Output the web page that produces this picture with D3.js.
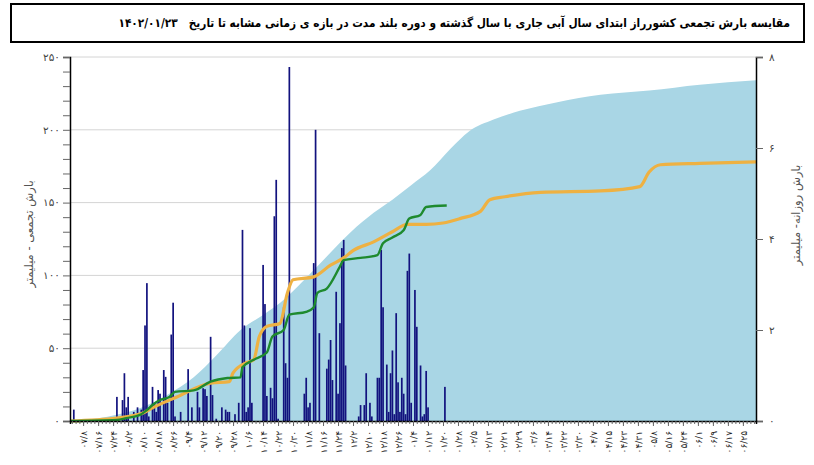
<!DOCTYPE html>
<html><head><meta charset="utf-8">
<script src="https://cdnjs.cloudflare.com/ajax/libs/d3/7.8.5/d3.min.js"></script>
<style>
body{margin:0;background:#fff;}
svg{display:block;font-family:"DejaVu Sans",sans-serif;}
</style></head><body>
<svg id="c" width="814" height="465"></svg>
<script>
const titleText = "مقایسه بارش تجمعی کشورراز ابتدای سال آبی جاری با سال گذشته و دوره بلند مدت در بازه ی زمانی مشابه تا تاریخ";
const titleDate = "۱۴۰۲/۰۱/۲۳";
const leftTitle = "بارش تجمعی - میلیمتر";
const rightTitle = "بارش روزانه- میلیمتر";
const leftTicks = [0,50,100,150,200,250];
const rightTicks = [0,2,4,6,8];
// x tick labels (month/day), every 8 days starting at day index 7
const xLabels = ["۰۷/۸","۰۷/۱۶","۰۷/۲۴","۰۸/۲","۰۸/۱۰","۰۸/۱۸","۰۸/۲۶","۰۹/۴","۰۹/۱۲","۰۹/۲۰","۰۹/۲۸",
 "۱۰/۶","۱۰/۱۴","۱۰/۲۲","۱۰/۳۰","۱۱/۸","۱۱/۱۶","۱۱/۲۴","۱۲/۲","۱۲/۱۰","۱۲/۱۸","۱۲/۲۶",
 "۰۱/۴","۰۱/۱۲","۰۱/۲۰","۰۱/۲۸","۰۲/۵","۰۲/۱۳","۰۲/۲۱","۰۲/۲۹","۰۳/۶","۰۳/۱۴","۰۳/۲۲","۰۳/۳۰",
 "۰۴/۷","۰۴/۱۵","۰۴/۲۳","۰۴/۳۱","۰۵/۸","۰۵/۱۶","۰۵/۲۴","۰۶/۱","۰۶/۹","۰۶/۱۷","۰۶/۲۵"];
const xLabelDays = xLabels.map((d,i)=>7+8*i);

// long-term cumulative (mm)
const ltDay = [0, 20, 39, 52, 66, 78, 91, 102, 112, 125, 137, 150, 162, 172, 182, 192, 203, 213, 226, 240, 260, 283, 309, 336, 366];
const ltMm  = [0, 3, 9.6, 18, 30, 45, 62.5, 72, 81, 97, 113, 130, 143, 152, 162, 172, 187, 199, 207, 213, 219, 224, 227, 231, 234];
// last year cumulative (mm)
const lyDay = [0,25,39,44,57,75,85,87,94,98,101,105,112,116,119,130,139,146,151,162,172,180,190,199,208,219,224,232,251,283,304,309,315,336,366];
const lyMm  = [0,2,5.5,9,16.5,26,27,33,40,42,58,65,67,88,97,99,107,112,117,123,130,135,135,136,139,144,152,154,157,158,161,171,176,177,178];
// current year cumulative (mm)
const cyDay = [0,25,30,37,41,44,48,53,56,66,75,84,91,92,98,105,108,114,117,126,130,132,137,144,146,155,164,167,172,178,181,187,190,201];
const cyMm  = [0,0.7,2,4,7.5,11,14.4,16.5,20,21,27,29.5,30,37,42,47,58,62.5,73,75,78,88,91,106,110.5,112,114,122,126,131,139,141.5,147,148];
// daily rainfall current year (mm)
const rainDay = [2,25,28,29,30,31,34,36,38,39,40,41,42,44,45,46,47,48,50,51,52,54,55,56,59,63,65,68,69,71,72,73,75,76,78,81,83,84,85,88,90,92,93,94,95,96,97,103,104,105,107,108,109,110,111,114,115,116,117,125,126,127,128,130,131,133,137,138,139,140,142,143,144,145,146,147,154,155,157,158,160,161,164,165,166,167,169,170,171,172,173,174,175,176,177,178,179,180,181,182,184,185,187,188,189,190,191,200];
const rainMm  = [0.25,0.53,0.46,1.05,0.3,0.53,0.2,0.3,0.25,1.12,2.1,3.03,0.1,0.75,0.4,0.2,0.68,0.6,1.12,0.97,0.4,1.9,2.6,0.1,0.2,1.14,0.3,0.64,0.3,0.72,0.7,0.55,1.85,0.57,0.05,0.3,0.25,0.2,0.2,0.15,0.4,4.2,2.1,0.2,0.3,2.04,0.4,3.43,2.57,0.55,0.73,0.5,4.5,5.3,0.05,2.5,1.27,0.95,7.78,0.6,0.95,0.3,0.4,3.47,6.4,1.93,1.15,1.35,1.78,0.9,2.84,0.6,2.15,3.8,3.98,1.22,0.1,0.35,0.35,1.05,0.4,0.1,0.95,0.95,3.76,2.5,1.24,0.2,1.05,1.55,0.15,2.37,0.85,0.2,0.95,0.6,0.15,3.3,3.68,0.4,2.88,2.07,1.22,0.1,0.15,1.1,0.3,0.75];

const svg = d3.select("#c");
const L = 70, R = 756, T = 57, B = 421;
const x = d3.scaleLinear().domain([0,366]).range([L,R]);
const yL = d3.scaleLinear().domain([0,250]).range([B,T]);
const yR = d3.scaleLinear().domain([0,8]).range([B,T]);

// title box
svg.append("rect").attr("x",11).attr("y",4).attr("width",793).attr("height",38)
  .attr("fill","#fff").attr("stroke","#000").attr("stroke-width",2);
const tt = svg.append("text").attr("x",790).attr("y",27).attr("text-anchor","end")
  .attr("font-family","'DejaVu Sans Condensed','DejaVu Sans',sans-serif")
  .attr("font-weight","bold").attr("font-size",13).attr("fill","#000")
  .text(titleText + "\u00A0\u00A0\u00A0" + titleDate);
(function(){
  const target = 790-118;
  const tl = tt.node().getComputedTextLength();
  tt.attr("font-size", Math.min(16, 13*target/tl));
})();

// gridlines
svg.append("g").selectAll("line").data(leftTicks.filter(d=>d>0)).join("line")
  .attr("x1",L).attr("x2",R).attr("y1",d=>yL(d)).attr("y2",d=>yL(d))
  .attr("stroke","#d4d4d4").attr("stroke-width",1);

// long-term area
svg.append("path").datum(ltDay.map((d,i)=>[d,ltMm[i]]))
  .attr("d", d3.area().x(d=>x(d[0])).y0(B).y1(d=>yL(d[1])).curve(d3.curveMonotoneX))
  .attr("fill","#a9d6e5");

// daily bars
svg.append("g").selectAll("rect").data(rainDay.map((d,i)=>[d,rainMm[i]])).join("rect")
  .attr("x",d=>x(d[0])-0.8).attr("width",1.7)
  .attr("y",d=>yR(d[1])).attr("height",d=>B-yR(d[1]))
  .attr("fill","#12127e");

// last year line
svg.append("path").datum(lyDay.map((d,i)=>[d,lyMm[i]]))
  .attr("d", d3.line().x(d=>x(d[0])).y(d=>yL(d[1])).curve(d3.curveMonotoneX))
  .attr("fill","none").attr("stroke","#eeb142").attr("stroke-width",3.2);
// current year line
svg.append("path").datum(cyDay.map((d,i)=>[d,cyMm[i]]))
  .attr("d", d3.line().x(d=>x(d[0])).y(d=>yL(d[1])).curve(d3.curveMonotoneX))
  .attr("fill","none").attr("stroke","#1e8a2e").attr("stroke-width",2.4);

// axes
const fa = d=>d3.format("d")(d).replace(/\d/g,c=>"۰۱۲۳۴۵۶۷۸۹"[+c]);
const leftAxis = d3.axisLeft(yL).tickValues(d3.range(0,251,10)).tickSize(7).tickFormat(d=>d%50===0?fa(d):"");
const gl = svg.append("g").attr("transform",`translate(${L},0)`).call(leftAxis);
gl.select(".domain").attr("stroke","#000").attr("stroke-width",1.5);
gl.selectAll(".tick line").attr("stroke","#666");
gl.selectAll("text").attr("font-size",10.5).attr("fill","#444").attr("font-family","DejaVu Sans");

const rightAxis = d3.axisRight(yR).tickValues(rightTicks).tickSize(7).tickFormat(fa);
const gr = svg.append("g").attr("transform",`translate(${R},0)`).call(rightAxis);
gr.select(".domain").attr("stroke","#000").attr("stroke-width",1.5);
gr.selectAll(".tick line").attr("stroke","#666");
gr.selectAll("text").attr("font-size",10.5).attr("fill","#444").attr("font-family","DejaVu Sans").attr("x",13);

const bottomAxis = d3.axisBottom(x).tickValues(d3.range(1,366,2)).tickSize(3).tickFormat("");
const gb = svg.append("g").attr("transform",`translate(0,${B})`).call(bottomAxis);
gb.select(".domain").attr("stroke","#000").attr("stroke-width",1.5);
gb.selectAll(".tick line").attr("stroke","#666");
const gb2 = svg.append("g").attr("transform",`translate(0,${B})`)
  .call(d3.axisBottom(x).tickValues(xLabelDays).tickSize(5).tickFormat((d,i)=>xLabels[i]));
gb2.select(".domain").remove();
gb2.selectAll(".tick line").attr("stroke","#666");
gb2.selectAll("text").attr("font-size",9).attr("fill","#222").attr("font-family","DejaVu Sans")
  .attr("transform","rotate(-90)").attr("text-anchor","end").attr("x",-10).attr("y",0).attr("dy","0.35em");

// axis titles
svg.append("text").attr("transform","translate(33,234) rotate(-90)").attr("text-anchor","middle")
  .attr("font-size",11.5).attr("fill","#555").text(leftTitle);
svg.append("text").attr("transform","translate(800,215) rotate(-90)").attr("text-anchor","middle")
  .attr("font-size",11.5).attr("fill","#555").text(rightTitle);
</script></body></html>
